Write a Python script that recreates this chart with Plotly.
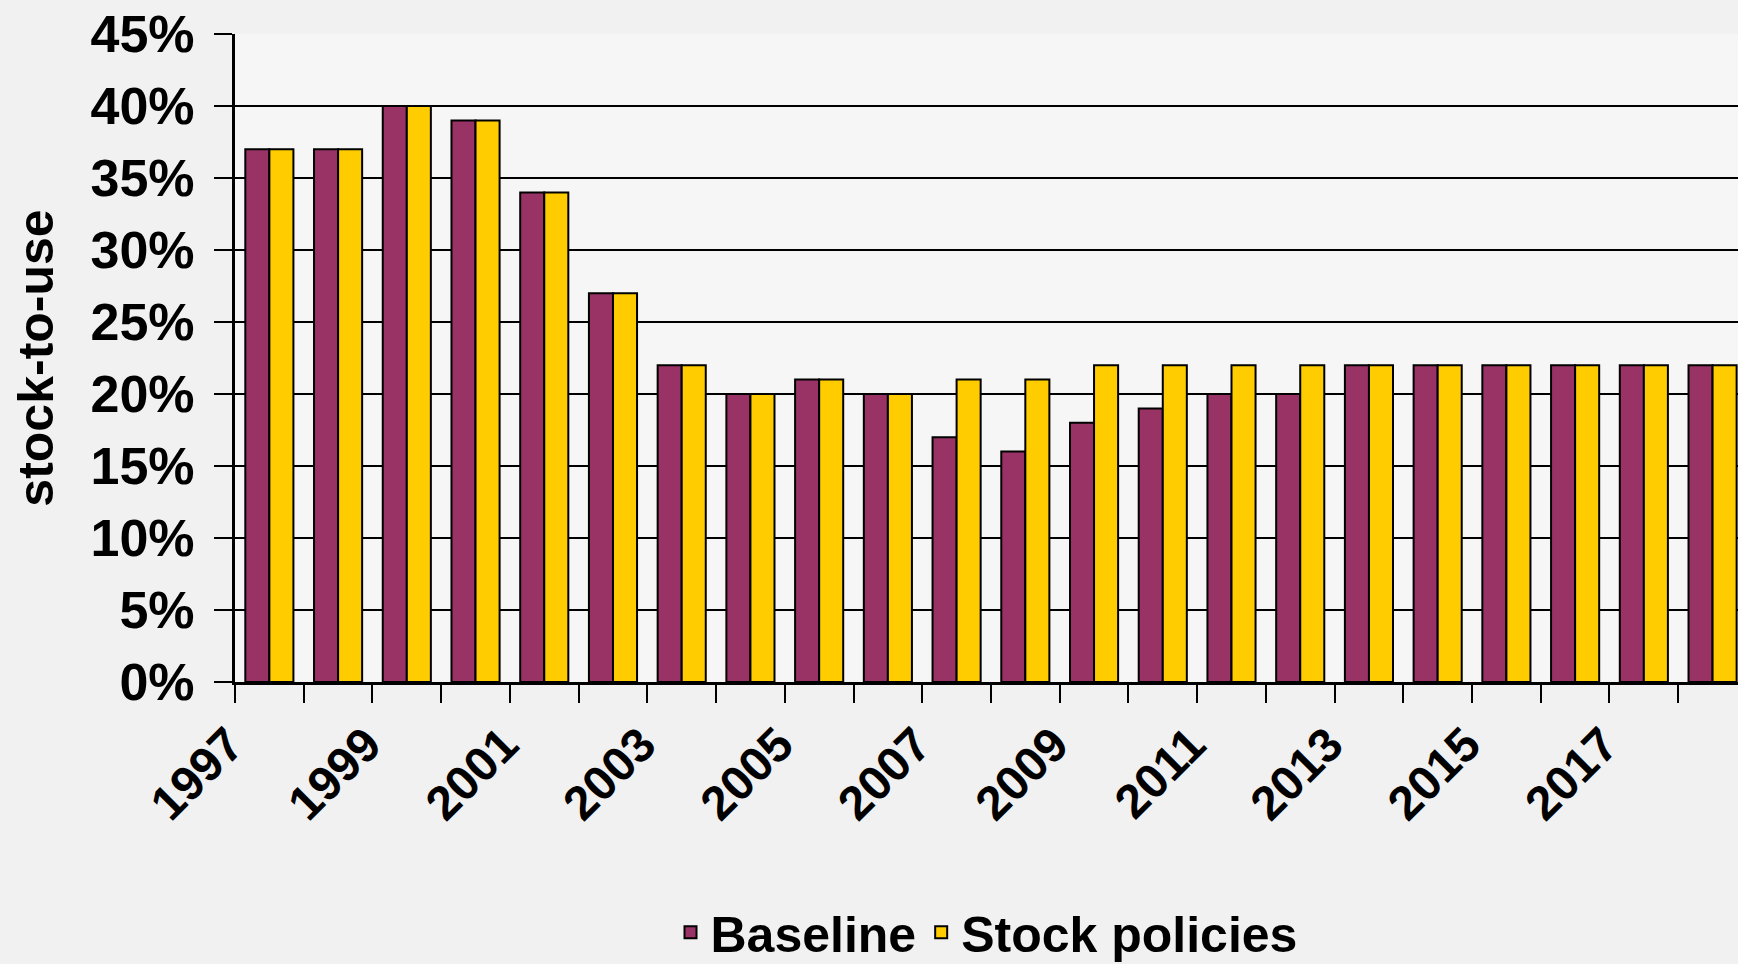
import plotly.graph_objects as go

years = list(range(1997, 2019))
baseline = [37, 37, 40, 39, 34, 27, 22, 20, 21, 20, 17, 16, 18, 19, 20, 20, 22, 22, 22, 22, 22, 22]
stock_policies = [37, 37, 40, 39, 34, 27, 22, 20, 21, 20, 21, 21, 22, 22, 22, 22, 22, 22, 22, 22, 22, 22]
x_label_years = [1997, 1999, 2001, 2003, 2005, 2007, 2009, 2011, 2013, 2015, 2017]
x_label_text = [str(y) for y in x_label_years]
y_tick_vals = [0, 5, 10, 15, 20, 25, 30, 35, 40, 45]
y_tick_text = [f"{v}%" for v in y_tick_vals]

FONT = "Liberation Sans, Arial, sans-serif"

fig = go.Figure()
fig.add_trace(go.Bar(x=years, y=baseline, name="Baseline",
                     marker=dict(color="#993366", line=dict(color="black", width=2))))
fig.add_trace(go.Bar(x=years, y=stock_policies, name="Stock policies",
                     marker=dict(color="#FFCC00", line=dict(color="black", width=2))))

fig.update_layout(
    width=1738, height=964,
    margin=dict(l=235, r=0, t=34, b=282, autoexpand=False),
    paper_bgcolor="#f1f1f1",
    plot_bgcolor="#f6f6f6",
    barmode="group",
    bargap=0.30,
    bargroupgap=0,
    font=dict(family=FONT, size=48, color="black", weight="bold"),
    showlegend=True,
    legend=dict(orientation="h", x=0.5, xanchor="center", y=-0.386, yanchor="middle",
                font=dict(family=FONT, size=50, color="black", weight="bold"),
                bgcolor="rgba(0,0,0,0)", itemsizing="constant",
                tracegroupgap=0),
)

fig.update_xaxes(
    range=[1996.5, 2018.37],
    tickmode="array", tickvals=x_label_years, ticktext=x_label_text,
    tickangle=-45, ticks="", showgrid=False, zeroline=False,
    ticklabelshift=-40, ticklabelstandoff=12,
    tickfont=dict(family=FONT, size=48, color="black", weight="bold"),
    showline=True, linecolor="black", linewidth=3,
    minor=dict(tick0=1996.5, dtick=1, ticks="outside", ticklen=18, tickwidth=2,
               tickcolor="black", showgrid=False),
)
fig.update_yaxes(
    range=[0, 45], tickmode="array", tickvals=y_tick_vals, ticktext=y_tick_text,
    ticks="outside", ticklen=18, tickwidth=2, tickcolor="black",
    ticklabelstandoff=9,
    showgrid=True, gridcolor="black", gridwidth=2, zeroline=False,
    showline=True, linecolor="black", linewidth=3,
    tickfont=dict(family=FONT, size=52, color="black", weight="bold"),
    title=dict(text="stock-to-use", font=dict(family=FONT, size=50, color="black", weight="bold"),
               standoff=22),
)

fig.write_html("out.html", config={"displayModeBar": False},
               post_script="document.body.style.margin='0';")
